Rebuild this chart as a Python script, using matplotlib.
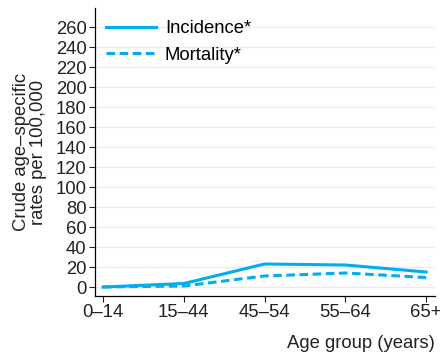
import matplotlib
matplotlib.use("Agg")
import matplotlib.pyplot as plt

# datos
grupos = ["0\u201314", "15\u201344", "45\u201354", "55\u201364", "65+"]
incidencia = [0, 3.5, 23, 22, 15]
mortalidad = [0, 1, 11, 14, 9.5]

plt.rcParams['font.family'] = ['Liberation Sans', 'DejaVu Sans']
color = "#00AEEF"
fs = 13.3

fig = plt.figure(figsize=(4.4, 3.55), dpi=100)
ax = fig.add_axes([95/440, 1-296/355, 340/440, 288/355])

x = list(range(len(grupos)))
ax.plot(x, incidencia, color=color, lw=2.2, label="Incidence*")
ax.plot(x, mortalidad, color=color, lw=2.2, ls=(0, (2.8, 1.5)), label="Mortality*")

ax.set_xlim(-0.1, 4.11)
ax.set_ylim(-9, 279)
ax.set_yticks(range(0, 261, 20))
ax.set_xticks(x)
ax.set_xticklabels(grupos)
ax.tick_params(labelsize=fs, colors="#222222", length=4, width=0.8, pad=2)
ax.grid(axis="y", color="#ececec", lw=1)
ax.set_axisbelow(True)
for s in ["top", "right"]:
	ax.spines[s].set_visible(False)
ax.spines["left"].set_linewidth(0.9)
ax.spines["bottom"].set_linewidth(0.9)

ax.set_ylabel("Crude age\u2013specific\nrates per 100,000", fontsize=fs, color="#222222", linespacing=1.0)
ax.yaxis.set_label_coords(-0.14, 0.5)
ax.set_xlabel("Age group (years)", fontsize=fs, color="#222222", loc="right", labelpad=10)

ax.legend(loc="upper left", frameon=False, fontsize=fs, handlelength=2.7,
	borderaxespad=0.0, borderpad=0.25, bbox_to_anchor=(0.018, 0.973), labelspacing=0.5, handletextpad=0.5)

fig.savefig("out.png")
